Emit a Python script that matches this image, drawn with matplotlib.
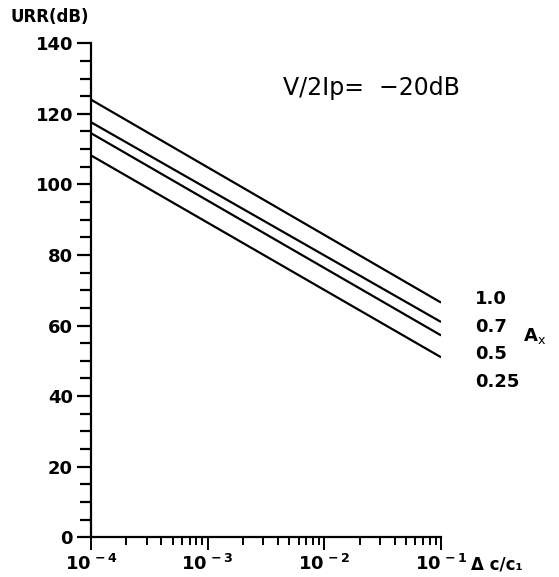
import numpy as np
import matplotlib.pyplot as plt
from matplotlib.ticker import MultipleLocator, LogLocator, NullFormatter

# Data (endpoints of straight lines on log x)
dc = [1e-4, 1e-1]
ax_labels = ['1.0', '0.7', '0.5', '0.25']
urr = {
    '1.0': [124.0, 66.5],
    '0.7': [117.6, 61.0],
    '0.5': [114.5, 57.2],
    '0.25': [108.2, 51.0],
}
label_y = [67.4, 59.5, 52.0, 44.0]

plt.rcParams['font.family'] = ['DejaVu Sans']
plt.rcParams['mathtext.fontset'] = 'dejavusans'
plt.rcParams['mathtext.default'] = 'bf'

fig = plt.figure(figsize=(5.59, 5.77), dpi=100)
ax = fig.add_axes([0.163, 0.069, 0.626, 0.856])

for name in ax_labels:
    ax.plot(dc, urr[name], color='black', lw=1.6, solid_capstyle='butt')

ax.set_xscale('log')
ax.set_xlim(1e-4, 1e-1)
ax.set_ylim(0, 140)

ax.spines['top'].set_visible(False)
ax.spines['right'].set_visible(False)
ax.spines['left'].set_linewidth(1.6)
ax.spines['bottom'].set_linewidth(1.6)

ax.yaxis.set_major_locator(MultipleLocator(20))
ax.yaxis.set_minor_locator(MultipleLocator(5))
ax.tick_params(axis='y', which='major', length=10, width=1.6, labelsize=13, pad=3)
ax.tick_params(axis='y', which='minor', length=8, width=1.6)
for t in ax.get_yticklabels():
    t.set_fontweight('bold')

ax.xaxis.set_minor_locator(LogLocator(base=10, subs=np.arange(2, 10), numticks=10))
ax.xaxis.set_minor_formatter(NullFormatter())
ax.set_xticks([1e-4, 1e-3, 1e-2, 1e-1])
ax.set_xticklabels([r'$10^{\,-4}$', r'$10^{\,-3}$', r'$10^{\,-2}$', r'$10^{\,-1}$'])
ax.tick_params(axis='x', which='major', length=9, width=1.4, labelsize=13, pad=3)
ax.tick_params(axis='x', which='minor', length=6, width=1.4)

ax.text(-0.231, 1.035, 'URR(dB)', transform=ax.transAxes, fontsize=12,
        fontweight='bold', ha='left', va='bottom')
ax.text(1.085, -0.055, '\u0394 c/c\u2081', transform=ax.transAxes, fontsize=12,
        fontweight='bold', ha='left', va='center')
ax.text(0.80, 0.91, 'V/2Ip=  \u221220dB', transform=ax.transAxes, fontsize=17,
        ha='center', va='center')

for name, yv in zip(ax_labels, label_y):
    ax.text(1.097, yv, name, transform=ax.get_yaxis_transform(), fontsize=13,
            fontweight='bold', ha='left', va='center')
ax.text(1.235, 57, r'A$_{\mathrm{x}}$', transform=ax.get_yaxis_transform(),
        fontsize=13, fontweight='bold', ha='left', va='center')

fig.savefig('out.png', dpi=100)
